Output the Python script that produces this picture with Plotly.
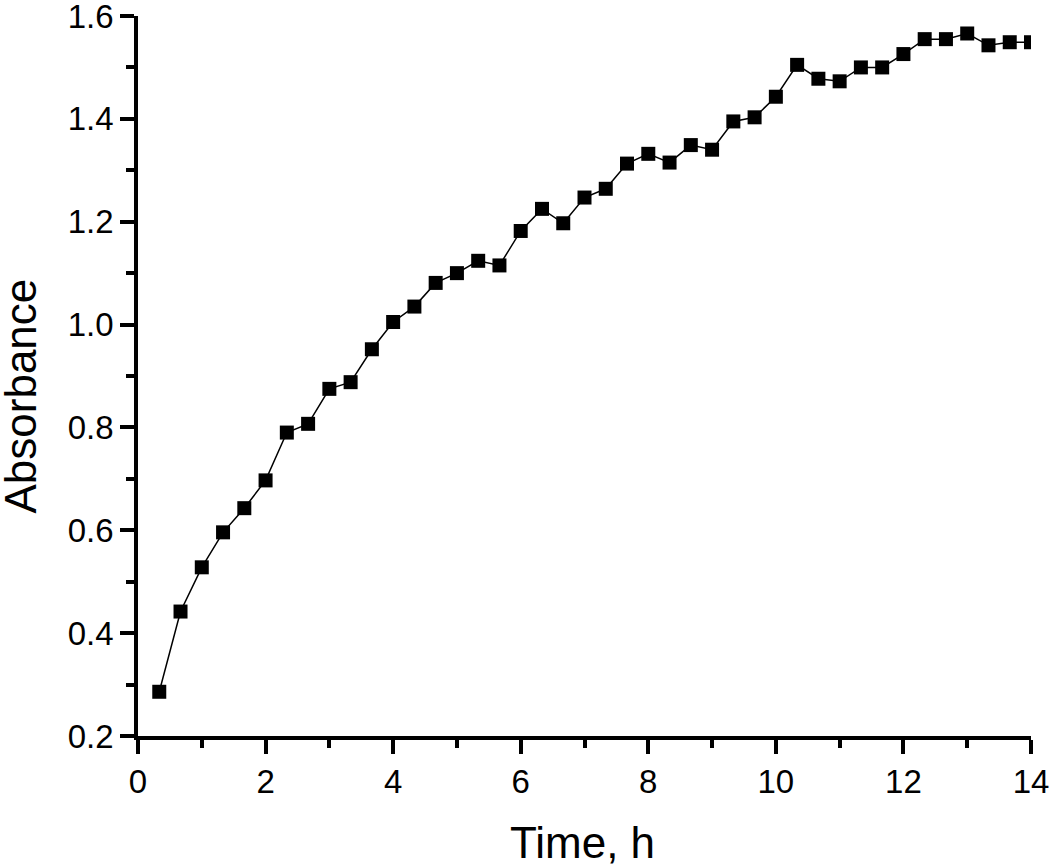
import plotly.graph_objects as go

# Time points (h), every 20 minutes
time_h = [i / 3 for i in range(1, 43)]

absorbance = [
    0.286, 0.442, 0.528, 0.596, 0.643, 0.697, 0.790, 0.807, 0.875, 0.888,
    0.952, 1.005, 1.035, 1.081, 1.100, 1.124, 1.115, 1.182, 1.225, 1.197,
    1.247, 1.264, 1.313, 1.332, 1.315, 1.349, 1.340, 1.395, 1.403, 1.443,
    1.505, 1.478, 1.473, 1.500, 1.500, 1.526, 1.555, 1.555, 1.566, 1.543,
    1.549, 1.549,
]

x_ticks = [0, 2, 4, 6, 8, 10, 12, 14]
y_ticks = [0.2, 0.4, 0.6, 0.8, 1.0, 1.2, 1.4, 1.6]
y_tick_labels = ["0.2", "0.4", "0.6", "0.8", "1.0", "1.2", "1.4", "1.6"]

x_title = "Time, h"
y_title = "Absorbance"

FONT = "Liberation Sans, Arial, sans-serif"

fig = go.Figure()
fig.add_trace(go.Scatter(
    x=time_h,
    y=absorbance,
    mode="lines+markers",
    line=dict(color="black", width=1.5),
    marker=dict(symbol="square", size=14, color="black", line=dict(width=0)),
    showlegend=False,
))

axis_common = dict(
    showgrid=False,
    zeroline=False,
    showline=True,
    linecolor="black",
    linewidth=3.5,
    ticks="outside",
    tickcolor="black",
    tickwidth=3.5,
    ticklen=14,
    tickfont=dict(family=FONT, size=33, color="black"),
    ticklabeloverflow="allow",
    mirror=False,
    automargin=False,
)

fig.update_xaxes(
    **axis_common,
    range=[0, 14],
    tickmode="array",
    tickvals=x_ticks,
    ticktext=[str(v) for v in x_ticks],
    minor=dict(ticks="outside", dtick=1, tick0=0, ticklen=8, tickwidth=3.5, tickcolor="black", showgrid=False),
)
fig.update_yaxes(
    **axis_common,
    range=[0.2, 1.6],
    tickmode="array",
    tickvals=y_ticks,
    ticktext=y_tick_labels,
    minor=dict(ticks="outside", dtick=0.1, tick0=0.2, ticklen=8, tickwidth=3.5, tickcolor="black", showgrid=False),
)

title_font = dict(family=FONT, size=44, color="black")
fig.add_annotation(
    text=x_title, xref="paper", yref="paper", x=0.4978, y=0,
    xanchor="center", yanchor="middle", yshift=-106, borderpad=0,
    showarrow=False, font=title_font,
)
fig.add_annotation(
    text=y_title, xref="paper", yref="paper", x=0, y=0.4715,
    xanchor="center", yanchor="middle", xshift=-117, textangle=-90, borderpad=0,
    showarrow=False, font=title_font,
)

fig.update_layout(
    width=1050,
    height=865,
    margin=dict(l=138, r=19, t=16, b=129),
    plot_bgcolor="white",
    paper_bgcolor="white",
)

fig.write_html(
    "out.html",
    config={"displayModeBar": False},
    post_script="document.body.style.margin='0';",
)
